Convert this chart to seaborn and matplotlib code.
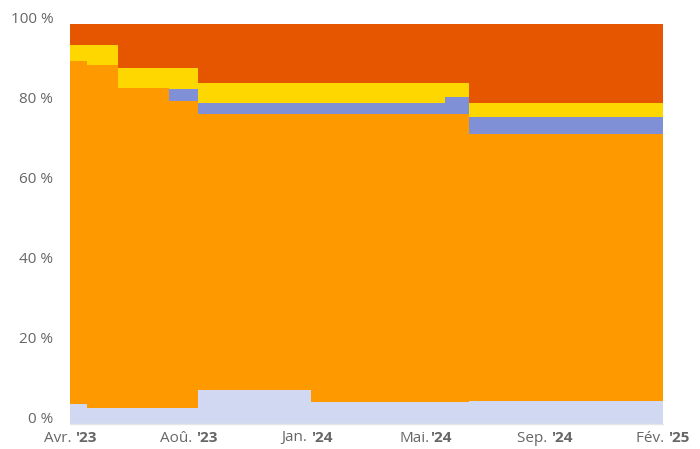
import matplotlib
matplotlib.use("Agg")
import matplotlib.pyplot as plt
import matplotlib.dates as mdates
import matplotlib.transforms as mtransforms
import numpy as np
import pandas as pd
import seaborn as sns

# Dates at which the shares change (step series), plus the end of the range
change_dates = ["2023-04-01", "2023-04-20", "2023-05-25", "2023-07-22",
                "2023-08-24", "2023-12-30", "2024-05-30", "2024-06-26"]
end_date = "2025-02-01"

# Share of each group in percent, bottom to top of the stack
share_lavender = [5.0, 4.1, 4.1, 4.1, 8.6, 5.6, 5.6, 5.8]
share_orange = [85.8, 85.6, 79.9, 76.7, 68.8, 71.8, 71.8, 66.6]
share_blue = [0.0, 0.0, 0.0, 2.9, 2.9, 2.9, 4.4, 4.4]
share_yellow = [4.0, 5.0, 4.9, 5.2, 5.0, 5.0, 3.5, 3.5]
share_red = [5.2, 5.3, 11.1, 11.1, 14.7, 14.7, 14.7, 19.7]

series_colors = ["#d1d9f2", "#ff9900", "#7f90d6", "#ffd700", "#e65500"]

# Axis labels
x_month_labels = ["Avr. ", "Aoû. ", "Jan. ", "Mai.", "Sep. ", "Fév. "]
x_year_labels = ["'23", "'23", "'24", "'24", "'24", "'25"]
y_ticks = [0, 20, 40, 60, 80, 100]
y_tick_labels = [f"{v} %" for v in y_ticks]

sns.set_theme(style="white")
plt.rcParams["font.family"] = ["Open Sans", "DejaVu Sans"]

dates = pd.to_datetime(change_dates + [end_date])
x = mdates.date2num(dates)

layers = [share_lavender, share_orange, share_blue, share_yellow, share_red]
layers = [np.array(v + [v[-1]], dtype=float) for v in layers]

fig = plt.figure(figsize=(7.0, 4.49), dpi=100)
ax = fig.add_axes([70 / 700, 25 / 449, 593 / 700, 400 / 449])

base = np.zeros_like(x)
for vals, col in zip(layers, series_colors):
    top = base + vals
    ax.fill_between(x, base, top, step="post", color=col, linewidth=0)
    base = top

ax.set_xlim(x[0], x[-1])
ax.set_ylim(0, 100)

for s in ax.spines.values():
    s.set_visible(False)

# y tick labels, nudged slightly above their ticks
ax.set_yticks(y_ticks)
ax.set_yticklabels(y_tick_labels)
ax.tick_params(axis="y", length=0, pad=12, labelsize=11, labelcolor="#666666")
for lbl in ax.get_yticklabels():
    lbl.set_transform(lbl.get_transform() + mtransforms.ScaledTranslation(0, 5 / 72, fig.dpi_scale_trans))

# x ticks equally spaced across the range
xt = np.linspace(x[0], x[-1], len(x_month_labels))
ax.set_xticks(xt)
ax.set_xticklabels([""] * len(xt))
ax.tick_params(axis="x", length=6, width=1, color="#e6e6e6", direction="out", pad=0)
ax.axhline(0, color="#e6e6e6", lw=1, zorder=5, clip_on=False)

# Two-part tick labels: month in regular weight, year in bold
fig.canvas.draw()
renderer = fig.canvas.get_renderer()
trans = mtransforms.blended_transform_factory(ax.transData, fig.transFigure)
label_y = (449 - 438) / 449
for pos, mon, yr in zip(xt, x_month_labels, x_year_labels):
    t1 = fig.text(0, 0, mon, fontsize=11, color="#666666")
    t2 = fig.text(0, 0, yr, fontsize=11, color="#666666", fontweight="bold")
    w1 = t1.get_window_extent(renderer).width
    w2 = t2.get_window_extent(renderer).width
    total = w1 + w2
    t1.remove()
    t2.remove()
    off1 = mtransforms.offset_copy(trans, fig=fig, x=-total / 2 * 72 / fig.dpi, y=0, units="points")
    off2 = mtransforms.offset_copy(trans, fig=fig, x=(-total / 2 + w1) * 72 / fig.dpi, y=0, units="points")
    ax.text(pos, label_y, mon, transform=off1, ha="left", va="center",
            fontsize=11, color="#666666", clip_on=False)
    ax.text(pos, label_y, yr, transform=off2, ha="left", va="center",
            fontsize=11, color="#666666", fontweight="bold", clip_on=False)

fig.savefig("out.png", dpi=100)
